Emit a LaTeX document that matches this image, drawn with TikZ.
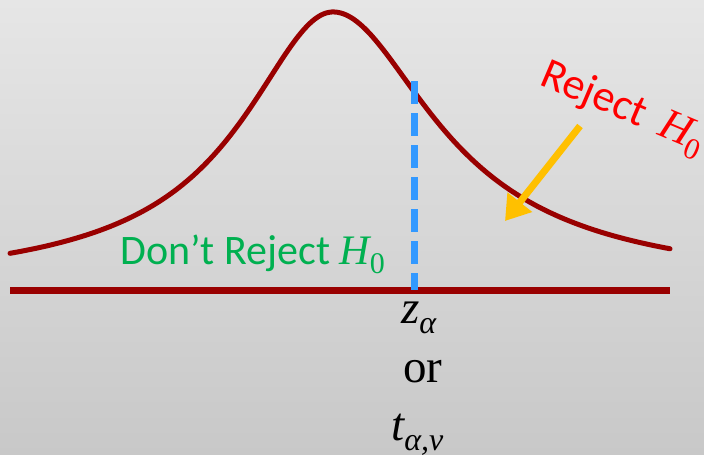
\documentclass[tikz,border=0pt]{standalone}
\usepackage{fontspec}
\setmainfont{Carlito}
\newfontfamily\seriffont{Liberation Serif}
\usetikzlibrary{arrows.meta}
\definecolor{bgtop}{HTML}{E6E6E6}
\definecolor{bgbot}{HTML}{C8C8C8}
\definecolor{curvered}{HTML}{990000}
\definecolor{dashblue}{HTML}{3399FF}
\definecolor{arrowyellow}{HTML}{FFC000}
\definecolor{txtgreen}{HTML}{00B050}
\definecolor{txtred}{HTML}{FF0000}
\newcommand{\Hzero}{{\seriffont\itshape H}\raisebox{-0.22em}{\seriffont\fontsize{30}{31}\selectfont 0}}
\newcommand{\subtext}[1]{\raisebox{-0.22em}{\seriffont\itshape\fontsize{32}{33}\selectfont #1}}
\tikzset{
  curveline/.style={draw=curvered, line width=5pt},
  axisline/.style={draw=curvered, line width=7pt},
  critline/.style={draw=dashblue, line width=7pt, dash pattern=on 23pt off 9pt},
  pointer/.style={draw=arrowyellow, line width=7pt, -{Triangle[length=24pt,width=30pt]}},
  label/.style={inner sep=0pt, font=\fontsize{42}{46}\selectfont},
  mathlabel/.style={inner sep=0pt, font=\seriffont\fontsize{47}{50}\selectfont}
}
\begin{document}
\begin{tikzpicture}[x=1pt,y=-1pt]
  \shade[top color=bgtop, bottom color=bgbot] (0,0) rectangle (704,455);
  \useasboundingbox (0,0) rectangle (704,455);
  % bell curve
  \draw[curveline, line cap=round] plot[smooth, domain=-323:337, samples=120, variable=\d]
    ({\d+333},{290-278*(1+(\d/(\d<0 ? 103 : 116))^2)^(-0.85)});
  % axis
  \coordinate (axL) at (10,290);
  \coordinate (axR) at (670,290);
  \draw[axisline] (axL) -- (axR);
  % critical value line
  \coordinate (critTop) at (414,81);
  \coordinate (critBot) at (414,290);
  \draw[critline] (critTop) -- (critBot);
  % labels
  \node[label, text=txtgreen, anchor=base west] (dont) at (120,264) {Don’t Reject \Hzero};
  \node[label, text=txtred, font=\fontsize{44}{48}\selectfont, rotate=-23, anchor=base west] (rej) at (538,84) {Reject\, \Hzero};
  % yellow arrow
  \coordinate (arrStart) at (580,126);
  \coordinate (arrEnd) at (505,221);
  \draw[pointer] (arrStart) -- (arrEnd);
  % critical value labels
  \node[mathlabel, anchor=base west] (za) at (401,323) {\itshape z\subtext{α}};
  \node[mathlabel, anchor=base west] (or) at (403,382) {or};
  \node[mathlabel, anchor=base west] (ta) at (391,440) {\itshape t\subtext{α,v}};
\end{tikzpicture}
\end{document}
